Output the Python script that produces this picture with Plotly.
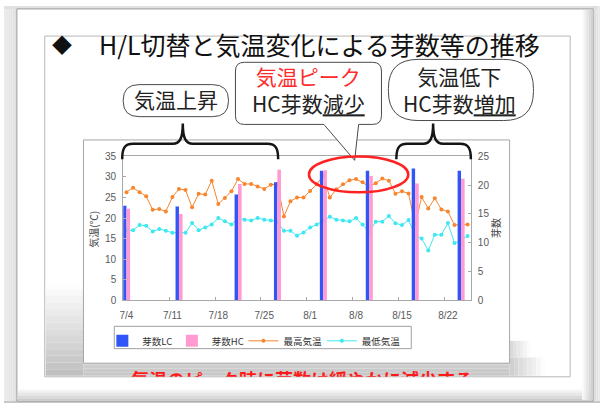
import plotly.graph_objects as go
import pandas as pd

W, H = 600, 409

# ---------------- data ----------------
dates = pd.date_range("2009-07-04", "2009-08-25", freq="D")
temp_max = [26.3, 27.4, 26.3, 25.3, 22.0, 22.2, 21.6, 25.1, 27.1, 26.8,
            22.6, 25.9, 25.7, 29.1, 23.4, 24.9, 26.5, 29.5, 28.3, 28.3,
            27.7, 27.1, 28.1, 28.3, 20.4, 24.1, 25.0, 25.0, 26.6, 28.2,
            30.4, 25.0, 27.0, 28.2, 29.2, 29.5, 28.7, 27.7, 28.5, 29.6,
            29.1, 25.9, 26.5, 26.0, 18.4, 25.1, 22.3, 24.8, 22.1, 21.6,
            18.3, 18.3, 18.4]
temp_min = [17.0, 17.0, 18.3, 18.1, 16.7, 17.3, 16.9, 16.4, 16.4, 16.4,
            18.8, 17.0, 17.7, 18.4, 20.0, 19.2, 18.4, 19.9, 19.6, 19.4,
            20.0, 19.6, 19.4, 19.1, 16.9, 16.9, 15.7, 16.5, 17.7, 18.4,
            19.4, 20.3, 19.6, 19.4, 19.2, 20.0, 18.4, 16.6, 19.1, 19.1,
            20.5, 18.7, 18.3, 19.5, 15.8, 15.0, 12.1, 15.9, 15.9, 18.8,
            13.9, 14.6, 15.6]
bar_dates = ["2009-07-04", "2009-07-12", "2009-07-21", "2009-07-27",
             "2009-08-03", "2009-08-10", "2009-08-17", "2009-08-24"]
buds_lc = [16.4, 16.3, 18.4, 20.5, 22.5, 22.5, 22.9, 22.5]
buds_hc = [15.9, 15.0, 20.2, 22.7, 22.6, 21.6, 20.3, 21.1]
tick_dates = ["2009-07-04", "2009-07-11", "2009-07-18", "2009-07-25",
              "2009-08-01", "2009-08-08", "2009-08-15", "2009-08-22"]
tick_labels = ["7/4", "7/11", "7/18", "7/25", "8/1", "8/8", "8/15", "8/22"]
series_names = ["芽数LC", "芽数HC", "最高気温", "最低気温"]

title_text = "H/L切替と気温変化による芽数等の推移"
bottom_text = "気温のピーク時に芽数は緩やかに減少する"

JP = "Noto Sans CJK JP"
NUM = "Liberation Sans"
DAY = 86400000


def X(p):
    return p / W


def Y(p):
    return 1 - p / H


fig = go.Figure()

fig.add_trace(go.Bar(x=bar_dates, y=buds_lc, name=series_names[0], yaxis="y2",
                     marker=dict(color="#3156F5", line=dict(width=0)),
                     width=0.52 * DAY, offset=-0.52 * DAY, legend="legend"))
fig.add_trace(go.Bar(x=bar_dates, y=buds_hc, name=series_names[1], yaxis="y2",
                     marker=dict(color="#FF9AD2", line=dict(width=0)),
                     width=0.55 * DAY, offset=0, legend="legend2"))
fig.add_trace(go.Scatter(x=dates, y=temp_max, name=series_names[2], mode="lines+markers",
                         line=dict(color="#F7862E", width=1),
                         marker=dict(size=4, color="#F7862E"), legend="legend3"))
fig.add_trace(go.Scatter(x=dates, y=temp_min, name=series_names[3], mode="lines+markers",
                         line=dict(color="#3DE8F2", width=1),
                         marker=dict(size=4, color="#3DE8F2"), legend="legend4"))

# clipped bottom caption (only the upper half is visible in the source)
fig.add_trace(go.Scatter(x=[300], y=[388], mode="text", text=[bottom_text],
                         textfont=dict(size=18, color="#FF1A1A", family=JP, weight="bold"),
                         cliponaxis=True, xaxis="x3", yaxis="y3",
                         showlegend=False, hoverinfo="skip"))

boundaries = [(pd.Timestamp(d) - pd.Timedelta(hours=12)).strftime("%Y-%m-%d %H:%M")
              for d in tick_dates[1:]]

axis_col = "#A8A8A8"


def leg(xpx):
    return dict(orientation="h", x=X(xpx), y=Y(330), xanchor="left", yanchor="top",
                bordercolor="rgba(0,0,0,0)", borderwidth=0, bgcolor="rgba(0,0,0,0)",
                font=dict(family=JP, size=9.5, color="#333333"), itemwidth=30)


fig.update_layout(
    width=W, height=H,
    margin=dict(l=0, r=0, t=0, b=0),
    paper_bgcolor="white", plot_bgcolor="rgba(0,0,0,0)",
    barmode="overlay",
    showlegend=True,
    xaxis=dict(type="date", domain=[X(120), X(470)],
               range=["2009-07-03 12:00", "2009-08-25 12:00"],
               tickmode="array", tickvals=tick_dates, ticktext=tick_labels,
               ticks="", showgrid=False, zeroline=False,
               showline=True, linecolor=axis_col, linewidth=1, mirror=True,
               tickfont=dict(family=NUM, size=10, color="#5a5a5a"),
               ticklabelstandoff=6,
               minor=dict(tickmode="array", tickvals=boundaries, ticks="inside",
                          ticklen=3, tickcolor=axis_col, showgrid=False)),
    yaxis=dict(domain=[Y(303), Y(155)], range=[0, 35], dtick=5,
               showgrid=False, zeroline=False,
               showline=True, linecolor=axis_col, linewidth=1,
               ticks="inside", ticklen=3, tickcolor=axis_col,
               tickfont=dict(family=NUM, size=10, color="#5a5a5a"),
               ticklabelstandoff=4),
    yaxis2=dict(overlaying="y", side="right", anchor="x", range=[0, 25], dtick=5,
                showgrid=False, zeroline=False,
                showline=True, linecolor=axis_col, linewidth=1,
                ticks="inside", ticklen=3, tickcolor=axis_col,
                tickfont=dict(family=NUM, size=10, color="#5a5a5a"),
                ticklabelstandoff=4),
    xaxis3=dict(domain=[0, 1], range=[0, W], visible=False, anchor="y3"),
    yaxis3=dict(domain=[Y(382), Y(352)], range=[382, 352], visible=False, anchor="x3"),
    legend=leg(99), legend2=leg(169), legend3=leg(241), legend4=leg(320),
)

shapes = []


def rect(x0, y0, x1, y1, fill, line=None, lw=1, layer="below"):
    d = dict(type="rect", xref="paper", yref="paper",
             x0=X(x0), x1=X(x1), y0=Y(y1), y1=Y(y0),
             fillcolor=fill, layer=layer,
             line=dict(width=lw if line else 0, color=line or "rgba(0,0,0,0)"))
    shapes.append(d)


def gray(v):
    v = int(round(v))
    return "rgb(%d,%d,%d)" % (v, v, v)


def vgrad(x0, y0, x1, y1, g0, g1, n=12):
    for i in range(n):
        a = y0 + (y1 - y0) * i / n
        b = y0 + (y1 - y0) * (i + 1) / n
        rect(x0, a, x1, b, gray(g0 + (g1 - g0) * (i + 0.5) / n))


def hgrad(x0, y0, x1, y1, g0, g1, n=12):
    for i in range(n):
        a = x0 + (x1 - x0) * i / n
        b = x0 + (x1 - x0) * (i + 1) / n
        rect(a, y0, b, y1, gray(g0 + (g1 - g0) * (i + 0.5) / n))


# outside shadow
hgrad(0, 0, 13, 409, 236, 222, 6)
rect(0, 0, 600, 3, gray(225))
hgrad(593, 0, 600, 409, 215, 235, 4)
rect(0, 407, 600, 409, gray(200))
# outer frame
rect(13, 3, 593, 407, "white", "#9A9A9A", 1)
# inner bevel
vgrad(14, 394, 592, 406, 255, 200, 8)
hgrad(582, 4, 592, 406, 255, 205, 6)
# content box
rect(41, 31, 570, 382, "white", "#B8B8B8", 1)
# gray reflection zone below / left of the chart
vgrad(42, 285, 80, 381, 255, 190, 14)
vgrad(80, 362, 509, 381, 212, 198, 5)
hgrad(509, 362, 545, 381, 205, 255, 8)
hgrad(509, 345, 530, 362, 215, 255, 6)
# chart frame
rect(80, 138, 509, 368, "white", "#A6A6A6", 1)
# legend box
rect(111, 330, 410, 353, "white", "#A0A0A0", 1)


def P(x, y):
    return "%.5f,%.5f" % (X(x), Y(y))


def rrect_path(x0, y0, x1, y1, r):
    return ("M " + P(x0 + r, y0) + " L " + P(x1 - r, y0) +
            " Q " + P(x1, y0) + " " + P(x1, y0 + r) +
            " L " + P(x1, y1 - r) + " Q " + P(x1, y1) + " " + P(x1 - r, y1) +
            " L " + P(x0 + r, y1) + " Q " + P(x0, y1) + " " + P(x0, y1 - r) +
            " L " + P(x0, y0 + r) + " Q " + P(x0, y0) + " " + P(x0 + r, y0) + " Z")


def path_shape(path, color, width, fill="rgba(0,0,0,0)"):
    shapes.append(dict(type="path", xref="paper", yref="paper", path=path,
                       line=dict(color=color, width=width), fillcolor=fill, layer="above"))


# callouts
path_shape(rrect_path(120, 81, 226, 114, 16), "#4a4a4a", 1, "white")
path_shape(rrect_path(387, 55, 533, 118, 30), "#4a4a4a", 1, "white")
x0, y0, x1, y1, r = 233, 58, 380, 122, 9
bubble = ("M " + P(x0 + r, y0) + " L " + P(x1 - r, y0) +
          " Q " + P(x1, y0) + " " + P(x1, y0 + r) +
          " L " + P(x1, y1 - r) + " Q " + P(x1, y1) + " " + P(x1 - r, y1) +
          " L " + P(357, y1) + " L " + P(353, 159) + " L " + P(322, y1) +
          " L " + P(x0 + r, y1) + " Q " + P(x0, y1) + " " + P(x0, y1 - r) +
          " L " + P(x0, y0 + r) + " Q " + P(x0, y0) + " " + P(x0 + r, y0) + " Z")
path_shape(bubble, "#4a4a4a", 1, "white")


def brace(xa, xm, xb, ytop, yh, yend):
    return ("M " + P(xa, yend) + " C " + P(xa, yh + 5) + " " + P(xa + 2, yh) + " " + P(xa + 11, yh) +
            " L " + P(xm - 10, yh) + " C " + P(xm - 3, yh) + " " + P(xm, yh - 6) + " " + P(xm, ytop) +
            " C " + P(xm, yh - 6) + " " + P(xm + 3, yh) + " " + P(xm + 10, yh) +
            " L " + P(xb - 11, yh) + " C " + P(xb - 2, yh) + " " + P(xb, yh + 5) + " " + P(xb, yend))


path_shape(brace(119, 180, 276, 121, 142, 158), "#151515", 2.5)
path_shape(brace(395, 432, 470, 121, 142, 158), "#151515", 2.5)

# red ellipse
shapes.append(dict(type="circle", xref="paper", yref="paper",
                   x0=X(307), x1=X(407), y0=Y(192), y1=Y(155),
                   line=dict(color="#FF2222", width=2.5), layer="above"))

fig.update_layout(shapes=shapes)

ann = []


def text(x, y, s, size, color="#222222", anchor="center", angle=0, family=JP):
    ann.append(dict(x=X(x), y=Y(y), xref="paper", yref="paper", text=s, showarrow=False,
                    xanchor=anchor, yanchor="middle", textangle=angle,
                    font=dict(family=family, size=size, color=color)))


text(58, 40, "◆", 20, "#111111")
text(94, 39, title_text, 25, "#111111", anchor="left")
text(173, 96, "気温上昇", 21)
text(307, 86.5, "<span style='color:#FF2B2B'>気温ピーク</span><br>HC芽数<u>減少</u>", 21)
text(459, 86.5, "気温低下<br>HC芽数<u>増加</u>", 21)
text(90, 230, "気温(℃)", 10, "#444444", angle=-90)
text(495, 229, "芽数", 10, "#444444", angle=-90)

fig.update_layout(annotations=ann)

fig.write_html("out.html", post_script="document.body.style.margin='0px';",
               config={"displayModeBar": False})
